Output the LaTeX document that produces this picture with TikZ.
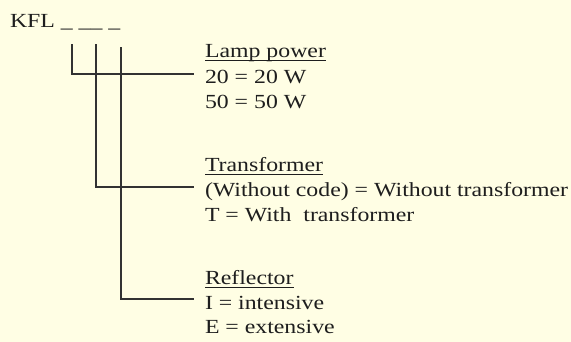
\documentclass[tikz,border=0pt]{standalone}
\usepackage{fontspec}
\setmainfont{Liberation Serif}[FakeStretch=1.19]

\begin{document}
\begin{tikzpicture}[x=1pt,y=-1pt,line cap=rect,
  lbl/.style={inner sep=0, outer sep=0, custcol_1e_1e_1e, anchor=base west, font=\fontsize{20pt}{20pt}\selectfont},
  wire/.style={line width=1.1pt, custcol_32_32_32}]
\useasboundingbox (0,0) rectangle (571,342);
\definecolor{custcol_1e_1e_1e}{RGB}{30, 30, 30}
\definecolor{custcol_32_32_32}{RGB}{50, 50, 50}
\definecolor{custcol_ff_fe_e4}{RGB}{255, 254, 228}
\def\ulword#1{\setbox0\hbox{#1}\rlap{\rule[-3.5pt]{\wd0}{1pt}}\box0}
\fill [custcol_ff_fe_e4]  (0,0) rectangle (571,342) ;
% code line
\node[lbl] (kfl) at (10.0,28.0) {KFL \_ \_\_ \_};
\coordinate (d1) at (72.0,45.0);
\coordinate (d2) at (96.0,45.0);
\coordinate (d3) at (121.0,48.0);
% lamp power
\node[lbl] (pw) at (205.0,58.0) {\ulword{Lamp power}};
\node[lbl] (pw1) at (205.0,84.0) {20 = 20 W};
\node[lbl] (pw2) at (205.0,109.0) {50 = 50 W};
% transformer
\node[lbl] (tr) at (205.0,172.0) {\ulword{Transformer}};
\node[lbl] (tr1) at (205.0,197.0) {(Without code) = Without transformer};
\node[lbl] (tr2) at (205.0,222.0) {T = With\ \ transformer};
% reflector
\node[lbl] (rf) at (205.0,284.0) {\ulword{Reflector}};
\node[lbl] (rf1) at (205.0,309.0) {I = intensive};
\node[lbl] (rf2) at (205.0,334.0) {E = extensive};
% leaders
\draw [wire] (d1) |- ([xshift=-12pt,yshift=10pt]pw1.base west) ;
\draw [wire] (d2) |- ([xshift=-12pt,yshift=10pt]tr1.base west) ;
\draw [wire] (d3) |- ([xshift=-12pt,yshift=10pt]rf1.base west) ;
\end{tikzpicture}
\end{document}
